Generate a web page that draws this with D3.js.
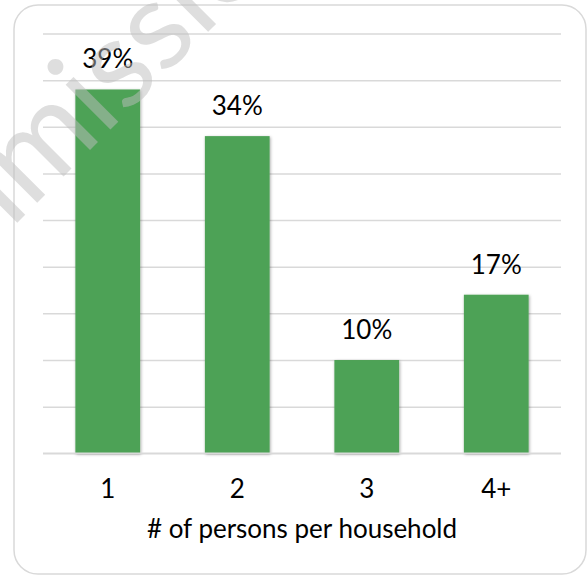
<!DOCTYPE html>
<html>
<head>
<meta charset="utf-8">
<script src="https://cdn.jsdelivr.net/npm/d3@7"></script>
<style>
  html, body { margin: 0; padding: 0; background: #ffffff; }
  svg { display: block; }
</style>
</head>
<body>
<div id="chart"></div>
<script>
// Household size distribution
const categories = ["1", "2", "3", "4+"];
const shares = [39, 34, 10, 17];          // percent of households
const gridTicks = [0, 5, 10, 15, 20, 25, 30, 35, 40, 45];
const axisTitle = "# of persons per household";
const watermarkText = "Commission";

const W = 587, H = 575;
const plot = { left: 43, right: 561, top: 33.5, bottom: 453.3 };
const FONT = "Lato, 'Open Sans', 'Liberation Sans', sans-serif";
const LABEL_SIZE = 26;

const svg = d3.select("#chart").append("svg")
  .attr("width", W).attr("height", H);

// soft shadow used under the bars
const defs = svg.append("defs");
const shadow = defs.append("filter").attr("id", "barShadow")
  .attr("x", "-20%").attr("y", "-5%").attr("width", "140%").attr("height", "115%");
shadow.append("feDropShadow")
  .attr("dx", 0.8).attr("dy", 1).attr("stdDeviation", 1.8)
  .attr("flood-color", "#000").attr("flood-opacity", 0.35);

// chart frame
svg.append("rect")
  .attr("x", 14).attr("y", 5)
  .attr("width", 572).attr("height", 569)
  .attr("rx", 24).attr("ry", 24)
  .attr("fill", "#ffffff")
  .attr("stroke", "#d9d9d9").attr("stroke-width", 1.5);

const x = d3.scaleBand()
  .domain(categories)
  .range([plot.left, plot.right])
  .paddingInner(0.5)
  .paddingOuter(0.25);

const y = d3.scaleLinear()
  .domain([0, 45])
  .range([plot.bottom, plot.top]);

// horizontal gridlines
const grid = svg.append("g")
  .attr("transform", `translate(${plot.left},0)`)
  .call(d3.axisLeft(y)
    .tickValues(gridTicks)
    .tickSize(-(plot.right - plot.left))
    .tickFormat(""));
grid.select(".domain").remove();
grid.selectAll(".tick line")
  .attr("stroke", "#d9d9d9").attr("stroke-width", 1.5);

// bars
svg.append("g").selectAll("rect")
  .data(shares)
  .join("rect")
  .attr("x", (d, i) => x(categories[i]))
  .attr("y", d => y(d))
  .attr("width", x.bandwidth())
  .attr("height", d => y(0) - y(d))
  .attr("fill", "#4ea256")
  .attr("filter", "url(#barShadow)");

// baseline drawn above bar shadows
svg.append("line")
  .attr("x1", plot.left).attr("x2", plot.right)
  .attr("y1", y(0)).attr("y2", y(0))
  .attr("stroke", "#d9d9d9").attr("stroke-width", 1.5);

// value labels
svg.append("g").selectAll("text")
  .data(shares)
  .join("text")
  .attr("x", (d, i) => x(categories[i]) + x.bandwidth() / 2)
  .attr("y", d => y(d) - 21)
  .attr("text-anchor", "middle")
  .attr("font-family", FONT)
  .attr("font-size", LABEL_SIZE)
  .attr("fill", "#000")
  .text(d => d + "%");

// category axis
const xAxis = svg.append("g")
  .attr("transform", `translate(0,${plot.bottom})`)
  .call(d3.axisBottom(x).tickSize(0).tickPadding(26));
xAxis.select(".domain").remove();
xAxis.selectAll("text")
  .attr("font-family", FONT)
  .attr("font-size", LABEL_SIZE)
  .attr("fill", "#000");

// axis title
svg.append("text")
  .attr("x", (plot.left + plot.right) / 2)
  .attr("y", 538)
  .attr("text-anchor", "middle")
  .attr("font-family", FONT)
  .attr("font-size", LABEL_SIZE)
  .attr("fill", "#000")
  .text(axisTitle);

// faint diagonal watermark
svg.append("text")
  .attr("transform", "translate(-150,390) rotate(-45)")
  .attr("font-family", FONT)
  .attr("font-size", 125)
  .attr("fill", "rgb(190,190,190)")
  .attr("fill-opacity", 0.5)
  .text(watermarkText);
</script>
</body>
</html>
